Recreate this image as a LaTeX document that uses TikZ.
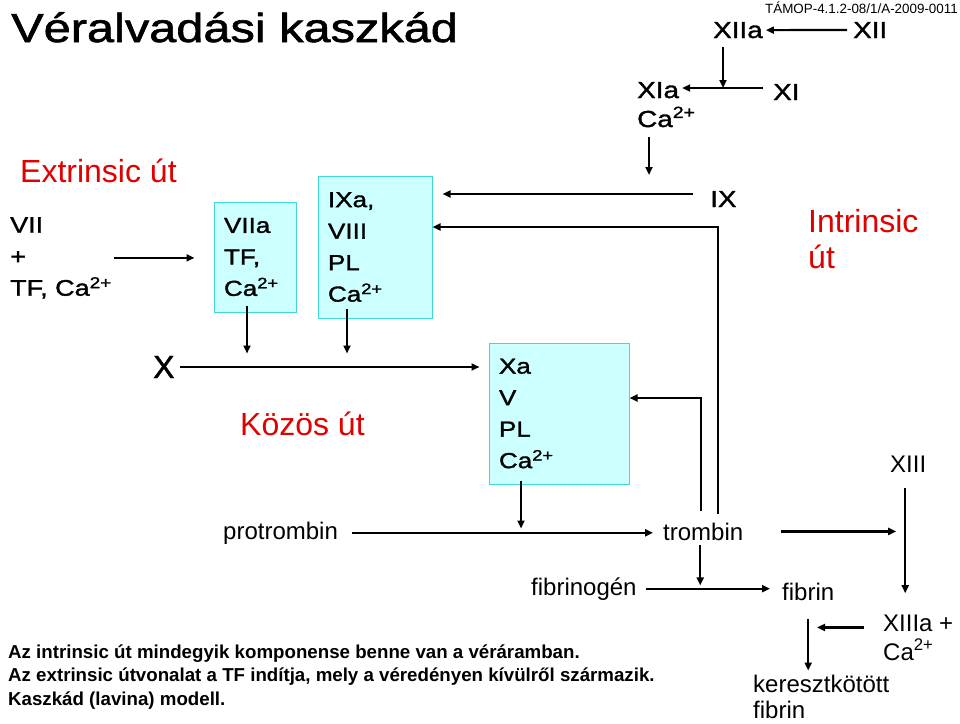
\documentclass[tikz,border=0pt]{standalone}
\usepackage{fontspec}
\setmainfont{Liberation Sans}
\newfontfamily\widefont[FakeStretch=1.2, FakeBold=1.5]{Liberation Sans}
\newfontfamily\heavyfont[FakeBold=1.5]{Liberation Sans}
\usetikzlibrary{arrows.meta}
\definecolor{pathred}{HTML}{E00000}
\definecolor{cplxbg}{HTML}{CCFFFF}
\definecolor{cplxbd}{HTML}{40D8D8}
\tikzset{
  lbl/.style={inner sep=0pt, anchor=base west},
  factor/.style={lbl, font=\widefont\fontsize{23.2}{28}\selectfont},
  plain/.style={lbl, font=\fontsize{24}{27}\selectfont},
  pathname/.style={lbl, text=pathred, font=\fontsize{32}{36}\selectfont},
  cplxbox/.style={
    draw=cplxbd, fill=cplxbg, line width=1pt, align=left,
    inner xsep=10pt, font=\widefont\fontsize{21.7}{31.5}\selectfont
  },
  arr/.style={-{Triangle[length=8pt,width=7pt]}, line width=2.2pt}
}

\begin{document}
\begin{tikzpicture}[x=1pt, y=-1pt]
  \useasboundingbox (0,0) rectangle (960,723);

  \node[lbl, font=\widefont\fontsize{40.6}{48}\selectfont] (title) at (11,42) {Véralvadási kaszkád};
  \node[inner sep=0pt, anchor=base east, font=\fontsize{13.4}{16}\selectfont] (proj) at (958,13.3) {TÁMOP-4.1.2-08/1/A-2009-0011};

  % intrinsic path
  \node[factor] (xiia) at (713,38) {XIIa};
  \node[factor] (xii) at (853,38) {XII};
  \node[factor] (xia) at (637,98) {XIa};
  \node[factor] (caxi) at (637,127) {Ca\textsuperscript{2+}};
  \node[factor] (xi) at (773,100) {XI};
  \node[factor] (ix) at (710,207) {IX};
  \node[pathname, anchor=north west, align=left] (intr) at (808,209.5) {Intrinsic\\út};

  % extrinsic path
  \node[pathname] (extr) at (20,182) {Extrinsic út};
  \node[lbl, anchor=north west, align=left, font=\widefont\fontsize{22.5}{31.5}\selectfont] (vii) at (10,217) {VII\\+\\TF, Ca\textsuperscript{2+}};
  \node[cplxbox, text width=62pt, minimum height=110pt] (viia) at (255,257) {VIIa\\TF,\\Ca\textsuperscript{2+}};
  \node[cplxbox, text width=94pt, minimum height=142pt] (ixa) at (375,247) {IXa,\\VIII\\PL\\Ca\textsuperscript{2+}};

  % common path
  \node[lbl, font=\heavyfont\fontsize{32}{36}\selectfont] (xfac) at (153,378) {X};
  \node[pathname] (kozos) at (240,435) {Közös út};
  \node[cplxbox, text width=120pt, minimum height=141pt] (xa) at (559,413.5) {Xa\\V\\PL\\Ca\textsuperscript{2+}};
  \node[plain] (xiii) at (890,472) {XIII};
  \node[plain] (protr) at (223,539) {protrombin};
  \node[plain] (trombin) at (663,540) {trombin};
  \node[plain] (fbg) at (531,595) {fibrinogén};
  \node[plain] (fibrin) at (782,600) {fibrin};
  \node[plain] (xiiia) at (883,631) {XIIIa +};
  \node[plain] (caxiii) at (883,660) {Ca\textsuperscript{2+}};
  \node[lbl, anchor=north west, align=left, font=\fontsize{24}{26.5}\selectfont] (kf) at (753,674.5) {keresztkötött\\fibrin};

  \node[lbl, anchor=north west, align=left, font=\bfseries\fontsize{18.7}{23.4}\selectfont] (note) at (8,644.6) {Az intrinsic út mindegyik komponense benne van a véráramban.\\Az extrinsic útvonalat a TF indítja, mely a véredényen kívülről származik.\\Kaszkád (lavina) modell.};

  \coordinate (jxi) at (723,88);
  \coordinate (jix) at (649,194);

  \draw[arr, shorten <=6pt, shorten >=3pt] (xii.west) -- (xiia.east);
  \draw[arr] ([yshift=-9pt]xiia.south -| jxi) -- (jxi);
  \draw[arr, shorten <=10pt, shorten >=3pt] (xi.west |- jxi) -- (xia.east |- jxi);
  \draw[arr] ([yshift=-10pt]caxi.south -| jix) -- ([yshift=19pt]jix);
  \draw[arr, shorten <=17pt, shorten >=10pt] (ix.west |- jix) -- (ixa.east |- jix);
  \draw[arr] ([xshift=15pt,yshift=8pt]trombin.north) |- ([yshift=20pt]ixa.east);
  \draw[arr] ([xshift=-2pt,yshift=11pt]trombin.north) |- ([yshift=15.5pt]xa.east);

  \draw[arr, shorten <=2pt, shorten >=19pt] (vii.east) -- (vii.east -| viia.west);
  \draw[arr] ([xshift=-8pt,yshift=7pt]viia.south) -- ++(0,48);
  \draw[arr] ([xshift=-28pt,yshift=10pt]ixa.south) -- ++(0,45);
  \draw[arr, shorten <=5pt, shorten >=9pt] (xfac.east) -- (xfac.east -| xa.west);
  \draw[arr] ([xshift=-38pt,yshift=4pt]xa.south) -- ++(0,48);

  \draw[arr, shorten <=14pt, shorten >=10pt] (protr.east) -- (protr.east -| trombin.west);
  \draw[arr, shorten <=38pt] (trombin.east) -- ([xshift=-12pt]trombin.east -| xiii.south);
  \draw[arr] ([xshift=-3pt,yshift=-16pt]xiii.south) -- ++(0,105);
  \draw[arr] ([xshift=-3pt,yshift=-5pt]trombin.south) -- ++(0,40);
  \draw[arr, shorten <=9pt, shorten >=12pt] (fbg.east) -- (fbg.east -| fibrin.west);
  \draw[arr, shorten <=19pt, shorten >=4pt] (fibrin.south) -- (fibrin.south |- kf.north);
  \draw[arr] ([xshift=-19pt,yshift=-4.6pt]xiiia.west) -- ++(-47,0);
\end{tikzpicture}
\end{document}
